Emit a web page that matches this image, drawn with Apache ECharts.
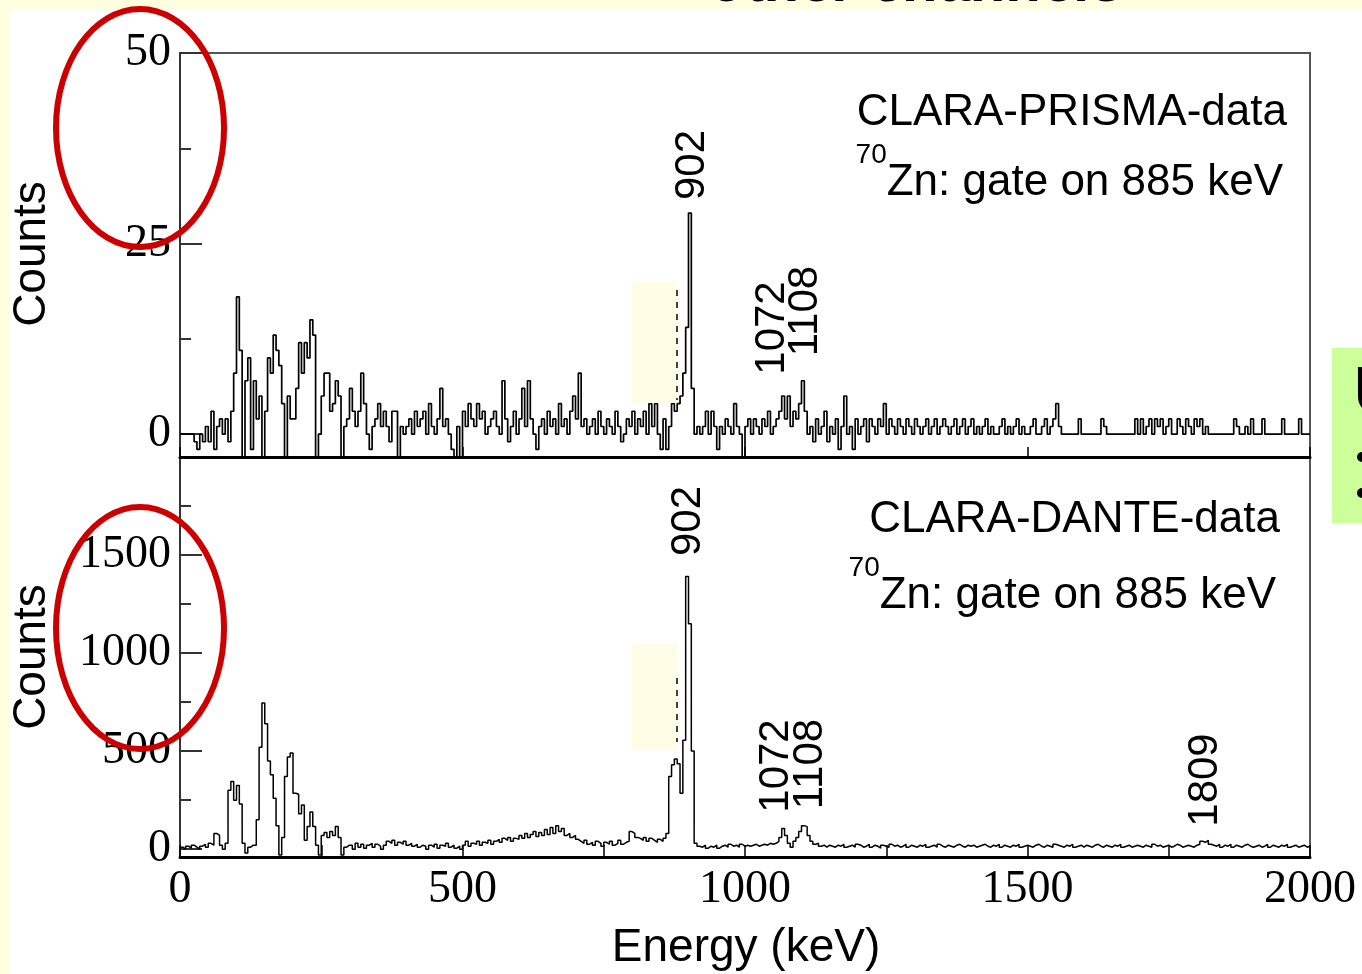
<!DOCTYPE html>
<html>
<head>
<meta charset="utf-8">
<script src="https://cdn.jsdelivr.net/npm/echarts@6/dist/echarts.min.js"></script>
<style>
  html, body { margin: 0; padding: 0; background: #ffffdf; }
  #paper { position: absolute; left: 10px; top: 9px; width: 1352px; height: 965px; background: #fff; }
  #chart { position: absolute; left: 0; top: 0; width: 1362px; height: 974px; }
</style>
</head>
<body>
<div id="paper"></div>
<div id="chart"></div>
<script>
// spectra are 5 keV bins, one row per 100 keV
const BIN_KEV = 5
const prismaCounts = [
  0, 0, 0, 0, 0, -1, -2, 0, -1, 1, -1, 3, -2, 1, 2, 0, 2, -1, 3, 8,
  18, 11, -3, 7, 10, -2, 7, 2, 5, -3, 3, 10, 8, 13, 11, 9, 4, -3, 5, 2,
  2, 6, 12, 8, 12, 10, 15, 13, -3, 0, 5, 8, 8, 3, 4, 7, 5, -3, 1, 2,
  6, 3, 1, 3, 8, 4, 0, -2, 1, 2, 4, 1, 3, 1, -1, 3, 3, -3, 1, 0,
  1, 2, 0, 3, 1, 2, 3, 0, 4, 1, 0, 2, 6, 1, 2, 0, -2, -3, 1, -3,
  3, 1, 4, 2, 1, 4, 2, 3, 0, 1, 2, 3, 1, 0, 7, 2, -1, 1, 3, 0,
  2, 6, 1, 7, 2, 0, -2, 1, 2, 0, 3, 1, 2, 0, 4, 1, 2, 0, 3, 5,
  2, 8, 1, 2, 0, 1, 2, 0, 3, 1, 0, 2, 1, 0, 3, 1, -1, 0, 2, 1,
  3, 0, 2, 1, 3, 0, 4, 1, 4, 0, -2, 2, -2, 1, 4, 3, 4, 5, 8, 14,
  29, 6, 0, 1, 0, 1, 3, 0, 3, 1, -2, 1, 0, 2, 1, 0, 4, 1, 0, -3,
  1, 2, 0, 2, 1, 0, 2, 1, 3, 0, 1, 2, 3, 5, 2, 5, 1, 3, 2, 4,
  7, 3, 0, 1, -1, 2, 0, 1, 3, -1, 1, 0, 2, -2, 1, 5, 0, 1, -2, 2,
  0, 1, 2, -1, 2, 1, 0, 2, 1, 4, 0, 2, 1, 0, 2, 1, 0, 2, 1, 0,
  2, 1, 0, 1, 2, 0, 1, 2, 0, 1, 2, 1, 0, 1, 2, 0, 1, 2, 0, 1,
  2, 0, 1, 0, 1, 2, 0, 1, 0, 0, 1, 2, 0, 1, 0, 1, 2, 0, 1, 0,
  0, 1, 2, 0, 0, 1, 2, 0, 1, 2, 4, 1, 0, 0, 0, 0, 0, 0, 2, 0,
  0, 0, 0, 0, 0, 0, 2, 1, 0, 0, 0, 0, 0, 0, 0, 0, 0, 0, 2, 0,
  2, 0, 1, 2, 0, 2, 1, 2, 0, 1, 2, 0, 0, 2, 1, 0, 2, 1, 0, 2,
  1, 2, 0, 1, 0, 0, 0, 0, 0, 0, 0, 0, 0, 2, 1, 0, 0, 1, 0, 2,
  0, 0, 0, 2, 0, 0, 0, 0, 0, 0, 2, 0, 0, 0, 0, 0, 2, 0, 0, 0
]
const danteCounts = [
  10, 0, 15, 5, 20, 10, 0, 15, 25, 10, 30, 20, 80, 70, 20, 0, 30, 300, 345, 250,
  325, 230, 30, -20, 10, 20, 20, 150, 520, 745, 640, 450, 380, 260, 120, -30, 60, 370, 470, 490,
  285, 280, 180, 225, 45, 115, 190, 115, 20, -30, 70, 85, 60, 90, 70, 115, 60, -30, 10, 20,
  20, 0, 30, 10, 25, 5, 20, 30, 10, 25, 15, 0, 20, 40, 30, 45, 20, 35, 25, 40,
  20, 30, 15, 25, 10, 20, 15, 0, 20, 10, 25, 5, 20, 15, 30, 10, 20, 5, 15, 0,
  20, 40, 15, 30, 25, 40, 20, 35, 30, 45, 25, 40, 50, 35, 55, 45, 60, 40, 55, 50,
  70, 55, 80, 60, 75, 90, 65, 85, 70, 100, 75, 110, 80, 120, 90, 105, 70, 80, 60, 70,
  50, 40, 30, 45, 25, 35, 20, 40, 30, 15, 35, 25, 40, 20, 30, 45, 25, 35, 40, 90,
  80, 60, 55, 45, 60, 40, 55, 45, 35, 50, 40, 55, 80, 370, 430, 460, 435, 285, 555, 1390,
  1150, 500, 30, 15, 10, 20, 5, 15, 10, 20, 5, 15, 20, 10, 25, 15, 20, 10, 25, 15,
  20, 15, 20, 25, 15, 20, 25, 20, 30, 25, 30, 40, 60, 105, 70, 30, 10, 40, 60, 90,
  120, 115, 70, 40, 25, 30, 15, 20, 10, 20, 15, 10, 20, 15, 25, 10, 15, 20, 10, 25,
  20, 10, 15, 25, 10, 20, 15, 5, 20, 15, 10, 25, 15, 20, 10, 15, 25, 10, 20, 15,
  10, 20, 15, 25, 10, 15, 20, 10, 25, 15, 10, 20, 15, 10, 20, 25, 15, 10, 20, 15,
  20, 10, 15, 20, 25, 15, 10, 20, 15, 25, 10, 20, 15, 10, 20, 15, 25, 10, 15, 20,
  15, 10, 20, 25, 15, 10, 20, 15, 10, 25, 20, 15, 10, 20, 15, 25, 10, 15, 20, 10,
  20, 15, 10, 20, 25, 15, 10, 20, 15, 10, 20, 15, 25, 10, 15, 20, 10, 15, 20, 15,
  10, 20, 15, 10, 25, 15, 20, 10, 15, 20, 10, 15, 25, 20, 10, 15, 20, 15, 10, 20,
  25, 40, 35, 45, 25, 20, 15, 25, 10, 20, 15, 25, 10, 20, 15, 10, 20, 25, 15, 10,
  15, 20, 10, 15, 25, 10, 20, 15, 10, 20, 15, 25, 10, 15, 20, 10, 15, 20, 10, 15
]

const xMajor = [0, 500, 1000, 1500, 2000]
const xMinor = [250, 750, 1250, 1750]
const topYMajor = [0, 25, 50]
const topYMinor = [12.5, 37.5]
const botYMajor = [0, 500, 1000, 1500]
const botYMinor = [250, 750, 1250, 1750]

const serif = '"Liberation Serif", "Times New Roman", serif'
const sans = '"Liberation Sans", Arial, sans-serif'
const plain = v => String(v)

function histo(counts) {
  const pts = counts.map((c, i) => [i * BIN_KEV, c])
  pts.push([counts.length * BIN_KEV, counts[counts.length - 1]])
  return pts
}

function yAxes(grid, min, max, major, minor) {
  return [
    {
      gridIndex: grid, type: 'value', position: 'left', min, max,
      axisLine: { show: true, onZero: false, lineStyle: { color: '#333', width: 2 } },
      axisTick: { inside: true, length: 22, customValues: major, lineStyle: { color: '#333', width: 2 } },
      axisLabel: { customValues: major, formatter: plain, fontFamily: serif, fontSize: 46, color: '#000', margin: 9 },
      splitLine: { show: false }
    },
    {
      gridIndex: grid, type: 'value', position: 'left', min, max,
      axisLine: { show: false, onZero: false },
      axisTick: { inside: true, length: 11, customValues: minor, lineStyle: { color: '#333', width: 2 } },
      axisLabel: { show: false },
      splitLine: { show: false }
    }
  ]
}

function txt(text, x, y, size) {
  return {
    type: 'text', x, y, z: 60,
    style: { text, fontFamily: sans, fontSize: size, fill: '#000', align: 'right', verticalAlign: 'middle' }
  }
}

function peak(text, x, y) {
  return {
    type: 'text', x, y, z: 60, rotation: Math.PI / 2,
    style: { text, fontFamily: sans, fontSize: 42, fill: '#000', align: 'center', verticalAlign: 'middle' }
  }
}

function gateLine(x, y) {
  return {
    type: 'text', x, y, z: 60,
    style: {
      text: '{s|70}{m|Zn: gate on 885 keV}', align: 'right', verticalAlign: 'middle',
      rich: {
        s: { fontFamily: sans, fontSize: 28, lineHeight: 22, verticalAlign: 'top', fill: '#000' },
        m: { fontFamily: sans, fontSize: 44, lineHeight: 84, fill: '#000' }
      }
    }
  }
}

const chart = echarts.init(document.getElementById('chart'))
chart.setOption({
  animation: false,
  backgroundColor: 'transparent',
  grid: [
    { left: 180, top: 53, width: 1130, height: 404, show: true, borderColor: '#555', borderWidth: 2, backgroundColor: 'transparent' },
    { left: 180, top: 457, width: 1130, height: 400, show: true, borderColor: '#555', borderWidth: 2, backgroundColor: 'transparent' }
  ],
  xAxis: [
    {
      gridIndex: 0, type: 'value', position: 'bottom', min: 0, max: 2000,
      axisLine: { onZero: false, lineStyle: { color: '#000', width: 3 } },
      axisTick: { inside: true, length: 10, customValues: xMajor, lineStyle: { color: '#000', width: 1.5 } },
      axisLabel: { show: false },
      splitLine: { show: false }
    },
    {
      gridIndex: 1, type: 'value', position: 'bottom', min: 0, max: 2000,
      axisLine: { onZero: false, lineStyle: { color: '#000', width: 3 } },
      axisTick: { inside: true, length: 12, customValues: xMajor.concat(xMinor), lineStyle: { color: '#000', width: 1.5 } },
      axisLabel: { customValues: xMajor, formatter: plain, fontFamily: serif, fontSize: 46, color: '#000', margin: 10 },
      splitLine: { show: false }
    }
  ],
  yAxis: yAxes(0, -3, 50, topYMajor, topYMinor).concat(yAxes(1, -40, 2000, botYMajor, botYMinor)),
  series: [
    {
      type: 'line', xAxisIndex: 0, yAxisIndex: 0, step: 'end', showSymbol: false, silent: true,
      lineStyle: { color: '#000', width: 1.7 }, data: histo(prismaCounts)
    },
    {
      type: 'line', xAxisIndex: 1, yAxisIndex: 2, step: 'end', showSymbol: false, silent: true,
      lineStyle: { color: '#000', width: 1.5 }, data: histo(danteCounts)
    }
  ],
  graphic: [
    // cut-off slide title
    { type: 'text', x: 918, y: 14, z: 60, style: { text: 'other channels', fontFamily: sans, fontWeight: 'bold', fontStyle: 'italic', fontSize: 58, fill: '#000', align: 'center', verticalAlign: 'bottom' } },
    // axis titles
    { type: 'text', x: 32, y: 254, z: 60, rotation: Math.PI / 2, style: { text: 'Counts', fontFamily: sans, fontSize: 46, fill: '#000', align: 'center', verticalAlign: 'middle' } },
    { type: 'text', x: 32, y: 657, z: 60, rotation: Math.PI / 2, style: { text: 'Counts', fontFamily: sans, fontSize: 46, fill: '#000', align: 'center', verticalAlign: 'middle' } },
    { type: 'text', x: 746, y: 948, z: 60, style: { text: 'Energy (keV)', fontFamily: sans, fontSize: 46, fill: '#000', align: 'center', verticalAlign: 'middle' } },
    // panel captions
    txt('CLARA-PRISMA-data', 1287, 113, 44),
    gateLine(1283, 183),
    txt('CLARA-DANTE-data', 1280, 520, 44),
    gateLine(1276, 596),
    // peak labels
    peak('902', 692, 165), peak('1072', 772, 328), peak('1108', 805, 311),
    peak('902', 688, 521), peak('1072', 776, 766), peak('1108', 810, 764), peak('1809', 1205, 780),
    // pale patches with dashed marks
    { type: 'rect', z: 55, shape: { x: 632, y: 282, width: 45, height: 121 }, style: { fill: '#fffde6' } },
    { type: 'line', z: 56, shape: { x1: 677, y1: 290, x2: 677, y2: 400 }, style: { stroke: '#000', lineWidth: 1.5, lineDash: [6, 6] } },
    { type: 'rect', z: 55, shape: { x: 632, y: 644, width: 45, height: 106 }, style: { fill: '#fffde6' } },
    { type: 'line', z: 56, shape: { x1: 677, y1: 678, x2: 677, y2: 742 }, style: { stroke: '#000', lineWidth: 1.5, lineDash: [6, 6] } },
    // red ellipses
    { type: 'ellipse', z: 70, shape: { cx: 140, cy: 128, rx: 84, ry: 119 }, style: { fill: 'none', stroke: '#cc0000', lineWidth: 6 } },
    { type: 'ellipse', z: 70, shape: { cx: 140, cy: 628, rx: 84, ry: 121 }, style: { fill: 'none', stroke: '#cc0000', lineWidth: 6 } },
    // green side box
    { type: 'rect', z: 55, shape: { x: 1332, y: 348, width: 40, height: 175 }, style: { fill: '#ccff99' } },
    { type: 'text', x: 1354, y: 395, z: 60, style: { text: 'U', fontFamily: sans, fontWeight: 'bold', fontSize: 66, fill: '#000', align: 'left', verticalAlign: 'middle' } },
    { type: 'circle', z: 60, shape: { cx: 1362, cy: 457, r: 5 }, style: { fill: '#000' } },
    { type: 'circle', z: 60, shape: { cx: 1362, cy: 493, r: 5 }, style: { fill: '#000' } }
  ]
})
</script>
</body>
</html>
